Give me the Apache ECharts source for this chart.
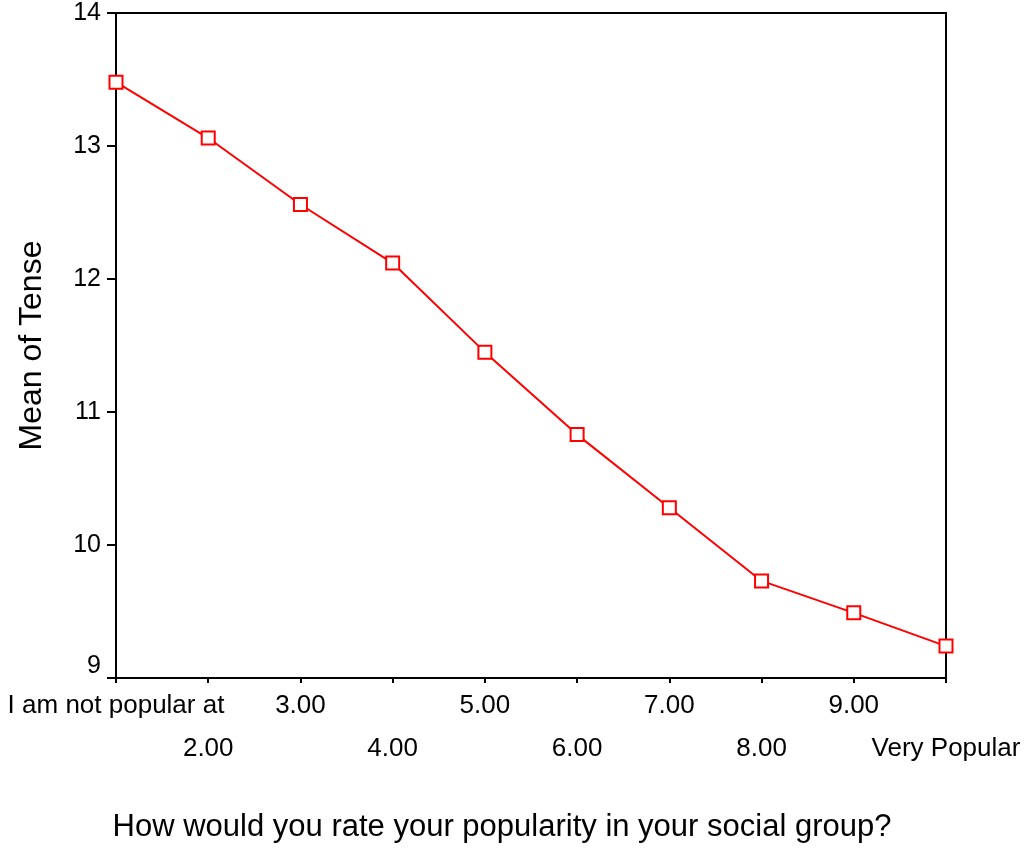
<!DOCTYPE html>
<html>
<head>
<meta charset="utf-8">
<script src="https://cdn.jsdelivr.net/npm/echarts@6/dist/echarts.min.js"></script>
<style>
  html, body { margin: 0; padding: 0; background: #fff; }
  #chart { width: 1030px; height: 849px; }
</style>
</head>
<body>
<div id="chart"></div>
<script>
// Popularity rating categories (x axis)
const categories = ['I am not popular at', '2.00', '3.00', '4.00', '5.00', '6.00', '7.00', '8.00', '9.00', 'Very Popular'];
// Mean of Tense for each rating
const meanTense = [13.48, 13.06, 12.56, 12.12, 11.45, 10.83, 10.28, 9.73, 9.49, 9.24];
// Y axis range
const yMin = 9, yMax = 14, yStep = 1;

const FONT = 'Liberation Sans, Arial, sans-serif';
const chart = echarts.init(document.getElementById('chart'), null, { renderer: 'canvas' });

chart.setOption({
  backgroundColor: '#ffffff',
  animation: false,
  grid: {
    left: 116, right: 84, top: 13, bottom: 171,
    outerBoundsMode: 'none',
    containLabel: false,
    show: true, borderColor: '#000', borderWidth: 2, backgroundColor: 'transparent'
  },
  xAxis: {
    type: 'category',
    data: categories,
    boundaryGap: false,
    name: 'How would you rate your popularity in your social group?',
    nameLocation: 'middle',
    nameGap: 134,
    nameTextStyle: { fontFamily: FONT, fontSize: 31, color: '#000', padding: [0, 58, 0, 0] },
    axisLine: { lineStyle: { color: '#000', width: 2 } },
    axisTick: { show: true, length: 5, alignWithLabel: true, interval: 0, lineStyle: { color: '#000', width: 2 } },
    axisLabel: {
      interval: 0,
      margin: 6,
      fontFamily: FONT, fontSize: 26, color: '#000',
      lineHeight: 43,
      verticalAlign: 'top',
      formatter: function (v, i) { return i % 2 === 1 ? '\n' + v : v; }
    },
    splitLine: { show: false }
  },
  yAxis: {
    type: 'value',
    min: yMin, max: yMax, interval: yStep,
    name: 'Mean of Tense',
    nameLocation: 'middle',
    nameGap: 68,
    nameRotate: 90,
    nameTextStyle: { fontFamily: FONT, fontSize: 32, color: '#000' },
    axisLine: { show: true, lineStyle: { color: '#000', width: 2 } },
    axisTick: { show: true, length: 9, lineStyle: { color: '#000', width: 2 } },
    axisLabel: {
      margin: 15,
      fontFamily: FONT, fontSize: 25, color: '#000',
      formatter: function (v) { return v === yMin ? '{low|' + v + '}' : String(v); },
      rich: { low: { fontFamily: FONT, fontSize: 25, color: '#000', padding: [0, 0, 24, 0] } }
    },
    splitLine: { show: false }
  },
  series: [{
    type: 'line',
    data: meanTense,
    symbol: 'rect',
    symbolSize: 13,
    itemStyle: { color: '#ffffff', borderColor: '#ff0000', borderWidth: 2 },
    lineStyle: { color: '#ff0000', width: 2 },
    emphasis: { disabled: true }
  }]
});
</script>
</body>
</html>
